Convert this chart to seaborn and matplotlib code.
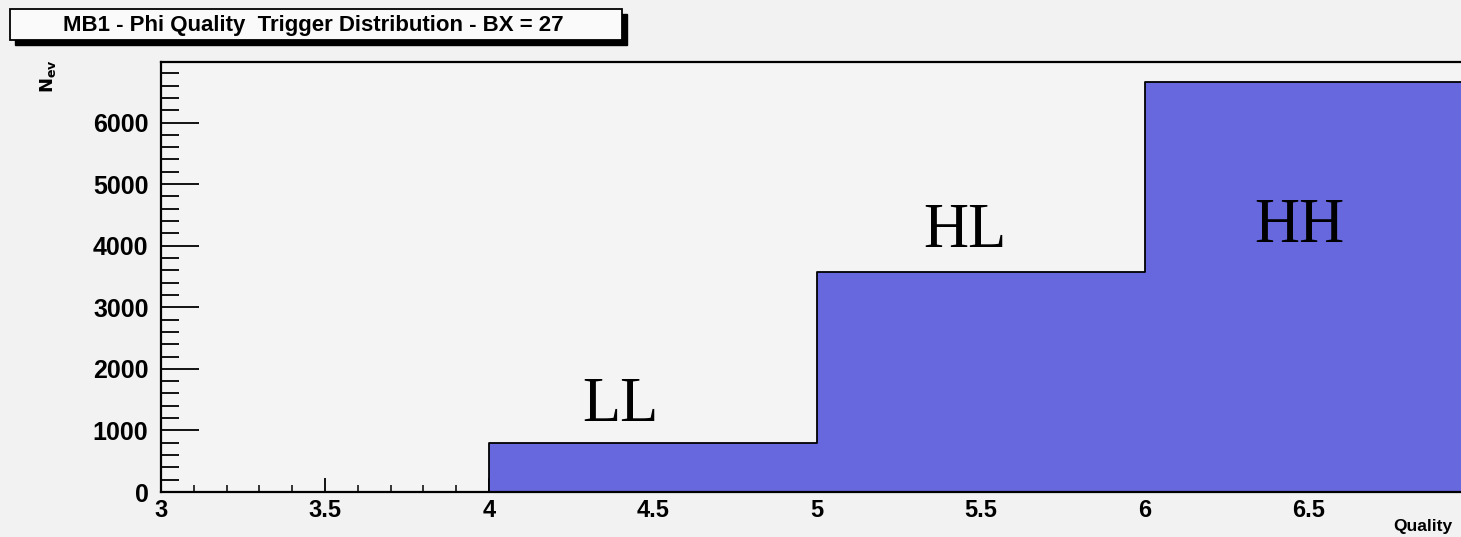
import numpy as np
import pandas as pd
import matplotlib
matplotlib.use("Agg")
import matplotlib.pyplot as plt
from matplotlib.patches import Rectangle
from matplotlib.ticker import MultipleLocator, FixedLocator, FuncFormatter
import seaborn as sns

# ---- data ----
bin_edges = [3, 4, 5, 6, 7]
bin_centers = [3.5, 4.5, 5.5, 6.5]
counts = [0, 800, 3580, 6650]
region_labels = ["LL", "HL", "HH"]
label_x = [4.40, 5.45, 6.47]
label_y = [1150, 3980, 4060]
x_major_ticks = [3, 3.5, 4, 4.5, 5, 5.5, 6, 6.5]
title = "MB1 - Phi Quality  Trigger Distribution - BX = 27"
xlabel = "Quality"
ylabel = r"$\mathbf{N_{ev}}$"

sns.set_theme(style="white")
plt.rcParams["font.family"] = ["Liberation Sans", "DejaVu Sans"]
plt.rcParams["text.color"] = "black"
plt.rcParams["xtick.color"] = "black"
plt.rcParams["ytick.color"] = "black"

W, H = 1461, 537
fig = plt.figure(figsize=(W / 100, H / 100), dpi=100)
bg = "#f2f2f2"
fig.patch.set_facecolor(bg)

def fx(px):
    return px / W

def fy(py):
    return 1 - py / H

ax = fig.add_axes([fx(161), fy(492), (1473 - 161) / W, (492 - 62) / H])
ax.set_facecolor("#f4f4f4")

df = pd.DataFrame({"quality": bin_centers, "n": counts})
sns.histplot(data=df, x="quality", weights="n", bins=bin_edges, element="step",
             fill=True, color="#6768de", alpha=1.0, edgecolor="black",
             linewidth=1.3, ax=ax)

ax.set_xlim(bin_edges[0], bin_edges[-1])
ax.set_ylim(0, 1.05 * max(counts))
ax.set_xlabel("")
ax.set_ylabel("")

for s in ax.spines.values():
    s.set_color("black")
    s.set_linewidth(1.6)
    s.set_visible(True)

ax.xaxis.set_major_locator(FixedLocator(x_major_ticks))
ax.xaxis.set_minor_locator(MultipleLocator(0.1))
ax.yaxis.set_major_locator(MultipleLocator(1000))
ax.yaxis.set_minor_locator(MultipleLocator(200))
ax.xaxis.set_major_formatter(FuncFormatter(lambda v, p: f"{v:g}"))
ax.yaxis.set_major_formatter(FuncFormatter(lambda v, p: f"{v:g}"))

ax.tick_params(axis="x", which="major", direction="in", length=10, width=1.3,
               colors="black", labelsize=17, pad=5, bottom=True, top=False)
ax.tick_params(axis="x", which="minor", direction="in", length=5, width=1.1,
               colors="black", bottom=True, top=False)
ax.tick_params(axis="y", which="major", direction="in", length=27, width=1.3,
               colors="black", labelsize=18, pad=9, left=True, right=False)
ax.tick_params(axis="y", which="minor", direction="in", length=13, width=1.3,
               colors="black", left=True, right=False)
for lab in ax.get_xticklabels() + ax.get_yticklabels():
    lab.set_fontweight("bold")
    lab.set_color("black")

for t, x, y in zip(region_labels, label_x, label_y):
    ax.text(x, y, t, ha="center", va="baseline", fontsize=45,
            family="Liberation Serif", color="black")

# title box with shadow
fig.add_artist(Rectangle((fx(15), fy(45)), fx(612), 31 / H, transform=fig.transFigure,
                         facecolor="black", edgecolor="black"))
fig.add_artist(Rectangle((fx(10), fy(40)), fx(612), 31 / H, transform=fig.transFigure,
                         facecolor="#fafafa", edgecolor="black", linewidth=1.3))
fig.text(fx(313), fy(25), title, ha="center", va="center", fontsize=16,
         fontweight="bold", color="black")

fig.text(fx(48), fy(76), ylabel, rotation=90, ha="center", va="center", fontsize=13,
         color="black")
fig.text(fx(1393), fy(526), xlabel, ha="left", va="center", fontsize=12.5,
         fontweight="bold", color="black")

fig.savefig("out.png", dpi=100, facecolor=bg)
